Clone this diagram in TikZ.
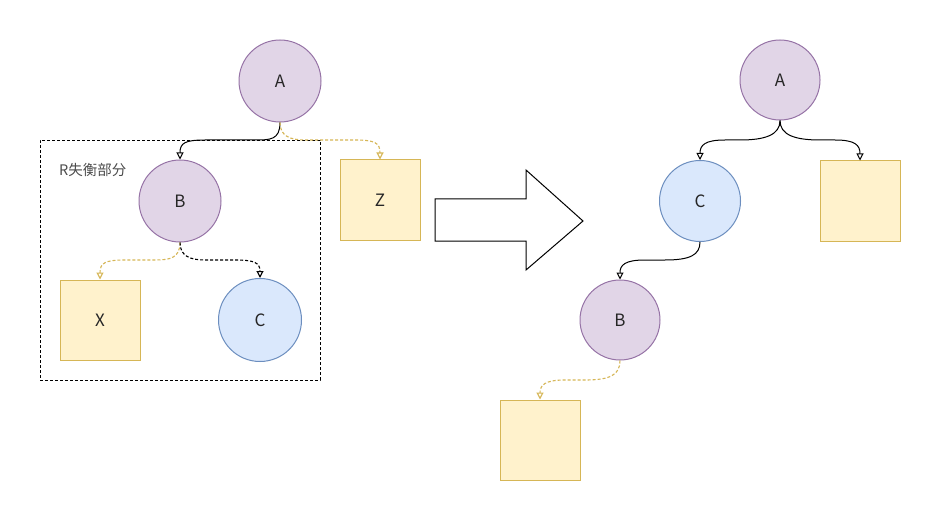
\documentclass[tikz,border=0pt]{standalone}
\usepackage{fontspec}
\setmainfont{Noto Sans CJK SC}
\usetikzlibrary{arrows.meta}
\definecolor{pfill}{HTML}{E1D5E7}
\definecolor{pline}{HTML}{9673A6}
\definecolor{bfill}{HTML}{DAE8FC}
\definecolor{bline}{HTML}{6C8EBF}
\definecolor{yfill}{HTML}{FFF2CC}
\definecolor{yline}{HTML}{D6B656}
\tikzset{
  pcirc/.style={circle, draw=pline, fill=pfill, line width=1pt, minimum size=82pt, inner sep=0pt, font=\fontsize{17}{17}\selectfont, text=black!85},
  bcirc/.style={circle, draw=bline, fill=bfill, line width=1pt, minimum size=83pt, inner sep=0pt, font=\fontsize{17}{17}\selectfont, text=black!85},
  ybox/.style={rectangle, draw=yline, fill=yfill, line width=1pt, minimum size=80pt, inner sep=0pt, font=\fontsize{17}{17}\selectfont, text=black!85},
  tip/.style={-{Triangle[open,length=7pt,width=7pt]}},
  solidedge/.style={tip, draw=black, line width=1pt},
  blackdash/.style={tip, draw=black, line width=1.1pt, dash pattern=on 3pt off 2pt},
  yellowdash/.style={tip, draw=yline, line width=1.1pt, dash pattern=on 3pt off 2pt},
}
\begin{document}
\begin{tikzpicture}[x=1pt,y=-1pt]
\useasboundingbox[fill=white] (0,0) rectangle (941,521);
% left group frame
\node[draw=black, line width=0.9pt, dash pattern=on 3pt off 2pt, minimum width=280pt, minimum height=240pt, inner sep=0pt] (frame) at (180,260) {};
\node[anchor=base west, font=\fontsize{14.5}{14.5}\selectfont, text=black!70, inner sep=0pt] (lab) at (59,176) {R失衡部分};
% left tree
\node[pcirc] (A1) at (280,81) {A};
\node[pcirc] (B1) at (180,201) {B};
\node[bcirc] (C1) at (260,320) {C};
\node[ybox] (Z1) at (380,200) {Z};
\node[ybox] (X1) at (100,320) {X};
\draw[solidedge] (A1.south) .. controls (280,140) and (270,140) .. (255,140) -- (205,140) .. controls (185,140) and (180,143) .. (B1.north);
\draw[yellowdash] (A1.south) .. controls (280,136) and (290,140) .. (305,140) -- (355,140) .. controls (375,140) and (380,143) .. (Z1.north);
\draw[yellowdash] (B1.south) .. controls (180,258) and (170,260) .. (155,260) -- (125,260) .. controls (105,260) and (100,263) .. (X1.north);
\draw[blackdash] (B1.south) .. controls (180,256) and (190,260) .. (205,260) -- (235,260) .. controls (255,260) and (260,263) .. (C1.north);
% big arrow
\draw[line width=1pt, fill=white] (435,199) -- (526,199) -- (526,170) -- (583,221) -- (526,270) -- (526,241) -- (435,241) -- cycle;
% right tree
\node[pcirc, minimum size=80pt] (A2) at (780,80) {A};
\node[bcirc, minimum size=81pt] (C2) at (700,201) {C};
\node[pcirc, minimum size=80pt] (B2) at (620,320) {B};
\node[ybox] (R2) at (860,201) {};
\node[ybox] (L2) at (540,440) {};
\draw[solidedge] (A2.south) .. controls (780,135) and (765,140) .. (740,140) -- (725,140) .. controls (705,140) and (700,145) .. (C2.north);
\draw[solidedge] (A2.south) .. controls (780,135) and (795,140) .. (820,140) -- (835,140) .. controls (855,140) and (860,145) .. (R2.north);
\draw[solidedge] (C2.south) .. controls (700,255) and (690,260) .. (665,260) -- (645,260) .. controls (625,260) and (620,265) .. (B2.north);
\draw[yellowdash] (B2.south) .. controls (620,375) and (610,380) .. (585,380) -- (565,380) .. controls (545,380) and (540,385) .. (L2.north);
\end{tikzpicture}
\end{document}
